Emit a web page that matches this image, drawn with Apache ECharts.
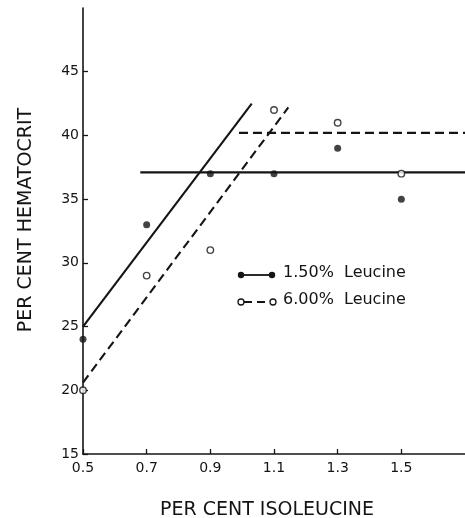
<!DOCTYPE html>
<html>
<head>
<meta charset="utf-8">
<script src="https://cdn.jsdelivr.net/npm/echarts@6/dist/echarts.min.js"></script>
<style>html,body{margin:0;padding:0;background:#fff}#c{width:465px;height:518px}</style>
</head>
<body>
<div id="c"></div>
<script>
// Data
const isoleucine = [0.5, 0.7, 0.9, 1.1, 1.3, 1.5];
const hematocritLeu150 = [24, 33, 37, 37, 39, 35];
const hematocritLeu600 = [20, 29, 31, 42, 41, 37];
// Fitted (broken-line) responses
const fitLeu150Slope = [[0.5, 25.0], [1.03, 42.5]];
const fitLeu150Flat = [[0.68, 37.1], [1.7, 37.1]];
const fitLeu600Slope = [[0.5, 20.6], [1.145, 42.2]];
const fitLeu600Flat = [[0.99, 40.2], [1.7, 40.2]];
const xTickLabels = [0.5, 0.7, 0.9, 1.1, 1.3, 1.5];
const yTickLabels = [15, 20, 25, 30, 35, 40, 45];
const legendNames = ['1.50%  Leucine', '6.00%  Leucine'];

const INK = '#141414';
const FONT = 'DejaVu Sans';
const pairs = (xs, ys) => xs.map((x, i) => [x, ys[i]]);

const chart = echarts.init(document.getElementById('c'), null, {renderer: 'canvas'});
const lineBase = {type: 'line', symbol: 'none', silent: true, animation: false, z: 2};
chart.setOption({
  backgroundColor: '#fff',
  animation: false,
  grid: {left: 83, right: 0, top: 8, bottom: 64, containLabel: false, outerBoundsMode: 'none'},
  xAxis: {
    type: 'value', min: 0.5, max: 1.7, interval: 0.2,
    name: 'PER CENT ISOLEUCINE', nameLocation: 'middle', nameGap: 47,
    nameTextStyle: {fontFamily: FONT, fontSize: 19, color: INK, padding: [0, 14, 0, 0]},
    axisLine: {show: true, onZero: false, lineStyle: {color: INK, width: 1.6}},
    axisTick: {show: true, inside: true, length: 5, customValues: xTickLabels, lineStyle: {color: INK, width: 1.3}},
    axisLabel: {customValues: xTickLabels, fontFamily: FONT, fontSize: 14, color: INK, margin: 7,
      formatter: v => v.toFixed(1)},
    splitLine: {show: false}
  },
  yAxis: {
    type: 'value', min: 15, max: 50, interval: 5,
    name: 'PER CENT HEMATOCRIT', nameLocation: 'middle', nameGap: 47,
    nameTextStyle: {fontFamily: FONT, fontSize: 19, color: INK, padding: [0, 0, 0, 22]},
    axisLine: {show: true, onZero: false, lineStyle: {color: INK, width: 1.6}},
    axisTick: {show: true, inside: true, length: 5, customValues: yTickLabels, lineStyle: {color: INK, width: 1.3}},
    axisLabel: {customValues: yTickLabels, fontFamily: FONT, fontSize: 14, color: INK, margin: 4},
    splitLine: {show: false}
  },
  series: [
    Object.assign({}, lineBase, {name: 'fit150a', data: fitLeu150Slope, lineStyle: {color: INK, width: 2.1}}),
    Object.assign({}, lineBase, {name: 'fit150b', data: fitLeu150Flat, lineStyle: {color: INK, width: 2.1}}),
    Object.assign({}, lineBase, {name: 'fit600a', data: fitLeu600Slope, lineStyle: {color: INK, width: 2.1, type: [9, 5]}}),
    Object.assign({}, lineBase, {name: 'fit600b', data: fitLeu600Flat, lineStyle: {color: INK, width: 2.1, type: [9, 5]}}),
    {type: 'scatter', name: legendNames[0], data: pairs(isoleucine, hematocritLeu150), symbol: 'circle', symbolSize: 7,
      itemStyle: {color: INK}, z: 4, animation: false},
    {type: 'scatter', name: legendNames[1], data: pairs(isoleucine, hematocritLeu600), symbol: 'circle', symbolSize: 6.5,
      itemStyle: {color: '#fff', borderColor: INK, borderWidth: 1.4}, z: 4, animation: false}
  ],
  graphic: [
    {type: 'line', shape: {x1: 241, y1: 275, x2: 272, y2: 275}, style: {stroke: INK, lineWidth: 1.8}},
    {type: 'circle', shape: {cx: 241, cy: 275, r: 3.2}, style: {fill: INK}},
    {type: 'circle', shape: {cx: 272, cy: 275, r: 3.2}, style: {fill: INK}},
    {type: 'text', left: 283, top: 265, style: {text: legendNames[0], fontFamily: FONT, fontSize: 16, fill: INK}},
    {type: 'line', shape: {x1: 244, y1: 302, x2: 270, y2: 302}, style: {stroke: INK, lineWidth: 1.8, lineDash: [8, 5]}},
    {type: 'circle', shape: {cx: 241, cy: 302, r: 3}, style: {fill: '#fff', stroke: INK, lineWidth: 1.3}},
    {type: 'circle', shape: {cx: 273, cy: 302, r: 3}, style: {fill: '#fff', stroke: INK, lineWidth: 1.3}},
    {type: 'text', left: 283, top: 292, style: {text: legendNames[1], fontFamily: FONT, fontSize: 16, fill: INK}}
  ]
});
</script>
</body>
</html>
